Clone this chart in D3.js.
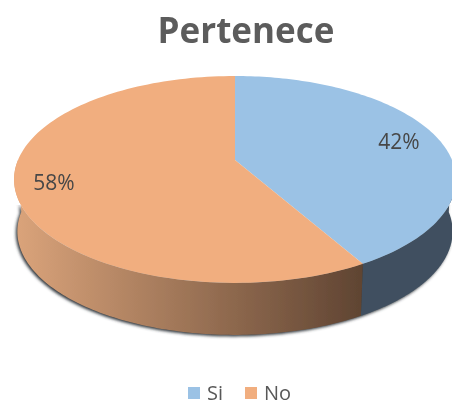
<!DOCTYPE html>
<html><head><meta charset="utf-8">
<script src="https://cdn.jsdelivr.net/npm/d3@7/dist/d3.min.js"></script>
<style>html,body{margin:0;padding:0;background:#fff;overflow:hidden}svg{display:block}</style>
</head><body><svg id="c" width="452" height="402"></svg>
<script>
const categories = ["Si", "No"];
const values = [41.8, 58.2];
const labels = ["42%", "58%"];
const titleText = "Pertenece";
const topColors = ["#9bc2e5", "#f1ae7f"];
const sideStops = [["#3f5060", "#3f5060"], ["#dba47b", "#5f4432"]];

const svg = d3.select("#c");
const font = "'Open Sans','Noto Sans',sans-serif";
const cx = 235, cy = 160, R = 217, V = 99.8, k = 0.188, depth = 52;
const proj = (a, dy = 0) => {
  const u = Math.sin(a), v = Math.cos(a), s = 1 / (1 + k * v);
  const shrink = dy ? 0.985 : 1;
  return [cx + R * u * s * shrink, cy - V * v * s + dy];
};
const arcs = d3.pie().sort(null).value(d => d)(values);
const line = d3.line();
const samples = (a0, a1) => d3.range(0, 121).map(i => a0 + (a1 - a0) * i / 120);
const defs = svg.append("defs");
defs.append("filter").attr("id", "soft").append("feGaussianBlur").attr("stdDeviation", 0.5);
defs.append("filter").attr("id", "shadow").attr("x", "-10%").attr("y", "-10%").attr("width", "120%").attr("height", "120%")
  .append("feGaussianBlur").attr("stdDeviation", 1.4);
defs.append("clipPath").attr("id", "shadowClip").append("rect")
  .attr("x", 0).attr("y", 205).attr("width", 452).attr("height", 197);

const g = svg.append("g").attr("filter", "url(#soft)");

const sideParts = arcs.map((d, i) => {
  const a0 = Math.max(d.startAngle, Math.PI / 2), a1 = Math.min(d.endAngle, 3 * Math.PI / 2);
  const as = samples(a0, a1);
  return [...as.map(a => proj(a)), ...as.slice().reverse().map(a => proj(a, depth))];
});

const half = samples(Math.PI / 2, 3 * Math.PI / 2);
g.append("g").attr("clip-path", "url(#shadowClip)").append("path")
  .attr("d", line(half.map(a => proj(a, depth + 1.5)).concat(half.slice().reverse().map(a => proj(a)))) + "Z")
  .attr("fill", "#33383e").attr("transform", "translate(-1.5,0)").attr("filter", "url(#shadow)");

sideParts.forEach((pts, i) => {
  const id = "side" + i;
  const xs = d3.extent(pts, p => p[0]);
  const grad = defs.append("linearGradient").attr("id", id).attr("gradientUnits", "userSpaceOnUse")
    .attr("x1", xs[1]).attr("x2", xs[0]).attr("y1", 0).attr("y2", 0);
  grad.append("stop").attr("offset", 0).attr("stop-color", sideStops[i][1]);
  grad.append("stop").attr("offset", 1).attr("stop-color", sideStops[i][0]);
  g.append("path").attr("d", line(pts) + "Z").attr("fill", `url(#${id})`);
});

arcs.forEach((d, i) => {
  const pts = [[cx, cy], ...samples(d.startAngle, d.endAngle).map(a => proj(a))];
  g.append("path").attr("d", line(pts) + "Z").attr("fill", topColors[i]);
});

const labelPos = [[399, 142], [54, 183]];
labels.forEach((t, i) => {
  g.append("text").attr("x", labelPos[i][0]).attr("y", labelPos[i][1]).attr("dy", "0.35em")
    .attr("text-anchor", "middle").attr("font-family", font).attr("font-size", 21).attr("fill", "#474747").text(t);
});

g.append("text").attr("x", 246).attr("y", 43).attr("text-anchor", "middle")
  .attr("font-family", font).attr("font-weight", 700).attr("font-size", 35).attr("fill", "#5c5c5c").text(titleText);

const legendX = [188, 245];
categories.forEach((c, i) => {
  g.append("rect").attr("x", legendX[i]).attr("y", 387).attr("width", 12).attr("height", 12).attr("fill", topColors[i]);
  g.append("text").attr("x", legendX[i] + 19).attr("y", 393).attr("dy", "0.35em")
    .attr("font-family", font).attr("font-size", 20).attr("fill", "#595959").text(c);
});
</script></body></html>
